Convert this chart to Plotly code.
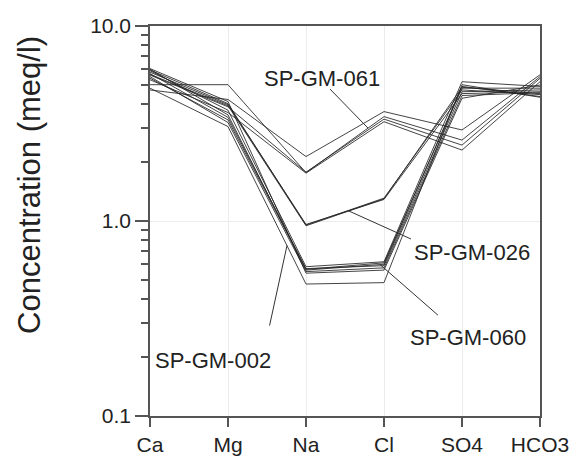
import math
import plotly.graph_objects as go

# Major ions on the x axis, concentrations in meq/l (Schoeller diagram)
ions = ["Ca", "Mg", "Na", "Cl", "SO4", "HCO3"]

sample_names = ["SP-GM-061", "", "", "", "SP-GM-026", "", "", "SP-GM-060",
                "", "", "", "", "SP-GM-002", ""]

ca = [5.0, 4.7, 5.6, 5.3, 5.95, 5.8, 5.65, 6.0, 5.9, 5.7, 5.5, 6.05, 4.8, 5.4]
mg = [5.0, 4.2, 3.85, 3.6, 4.0, 3.95, 3.9, 3.5, 3.7, 3.4, 3.2, 4.1, 3.05, 3.3]
na = [1.77, 2.14, 1.78, 1.76, 0.953, 0.96, 0.945, 0.56, 0.583, 0.57, 0.55, 0.54, 0.475, 0.565]
cl = [3.43, 3.64, 3.33, 3.23, 1.31, 1.29, 1.30, 0.60, 0.618, 0.59, 0.575, 0.56, 0.483, 0.61]
so4 = [2.60, 2.93, 2.45, 2.31, 4.7, 4.5, 4.85, 4.9, 5.18, 4.6, 4.4, 4.26, 5.0, 4.8]
hco3 = [5.50, 5.62, 5.39, 5.18, 4.45, 4.6, 4.5, 4.35, 4.9, 4.7, 4.55, 4.98, 4.31, 4.8]

y_tick_vals = [0.1, 1, 10]
y_tick_text = ["0.1", "1.0", "10.0"]
y_minor_vals = [m * d for d in (0.1, 1) for m in range(2, 10)]

# Sample labels: (series, segment start ion, fraction along segment,
#                 text position (x, log10 y), leader tail (x, log10 y))
callouts = [
    (0, 2, 0.795, (2.205, 0.733), (2.282, 0.687)),
    (4, 2, 0.538, (4.128, -0.159), (3.372, -0.097)),
    (7, 2, 0.949, (4.077, -0.595), (3.718, -0.492)),
    (12, 1, 0.756, (0.808, -0.713), (1.526, -0.549)),
]

FONT = "Liberation Sans, Arial, sans-serif"
LINE_COLOR = "rgba(35,35,35,0.85)"
AXIS_COLOR = "#555555"

columns = [ca, mg, na, cl, so4, hco3]
series = [[col[i] for col in columns] for i in range(len(ca))]

fig = go.Figure()
for name, vals in zip(sample_names, series):
    fig.add_trace(go.Scatter(
        x=ions, y=vals, mode="lines", name=name,
        line=dict(color=LINE_COLOR, width=1),
        showlegend=False, cliponaxis=False,
    ))

annotations = []
for idx, seg, t, (tx, ty), (ax, ay) in callouts:
    vals = series[idx]
    head_x = seg + t
    head_y = math.log10(vals[seg]) + t * (math.log10(vals[seg + 1]) - math.log10(vals[seg]))
    annotations.append(dict(
        x=head_x, y=head_y, xref="x", yref="y",
        ax=ax, ay=ay, axref="x", ayref="y",
        text=" ", showarrow=True, arrowhead=0, arrowwidth=1,
        arrowcolor="#333333", standoff=0, startstandoff=0,
        font=dict(size=2),
    ))
    annotations.append(dict(
        x=tx, y=ty, xref="x", yref="y", text=sample_names[idx],
        showarrow=False, xanchor="center", yanchor="middle",
        font=dict(family=FONT, size=22, color="#222222"),
    ))

# y-axis title, set a little above the middle of the axis
annotations.append(dict(
    x=0, xref="paper", xshift=-120, y=0.185, yref="y",
    text="Concentration (meq/l)", textangle=-90, showarrow=False,
    xanchor="center", yanchor="middle",
    font=dict(family=FONT, size=31, color="#222222"),
))

fig.update_layout(
    width=582, height=456,
    margin=dict(l=150, r=42, t=26, b=40),
    paper_bgcolor="white", plot_bgcolor="white",
    font=dict(family=FONT, color="#222222"),
    annotations=annotations,
    xaxis=dict(
        type="category", range=[0, 5], automargin=False,
        showline=True, linecolor=AXIS_COLOR, linewidth=1.5, mirror=True,
        ticks="outside", ticklen=9, tickcolor=AXIS_COLOR, tickwidth=1.5,
        tickfont=dict(family=FONT, size=21, color="#222222"),
        showgrid=True, gridcolor="#ececec", gridwidth=1,
        zeroline=False, fixedrange=True,
    ),
    yaxis=dict(
        type="log", range=[-1, 1], automargin=False,
        tickvals=y_tick_vals, ticktext=y_tick_text,
        showline=True, linecolor=AXIS_COLOR, linewidth=1.5, mirror=True,
        ticks="outside", ticklen=13, tickcolor=AXIS_COLOR, tickwidth=1.5,
        tickfont=dict(family=FONT, size=21, color="#222222"),
        minor=dict(tickvals=y_minor_vals, ticks="outside", ticklen=7,
                   tickcolor=AXIS_COLOR, tickwidth=1.5, showgrid=False),
        showgrid=True, gridcolor="#ececec", gridwidth=1,
        zeroline=False, fixedrange=True,
    ),
)

fig.write_html("out.html")
